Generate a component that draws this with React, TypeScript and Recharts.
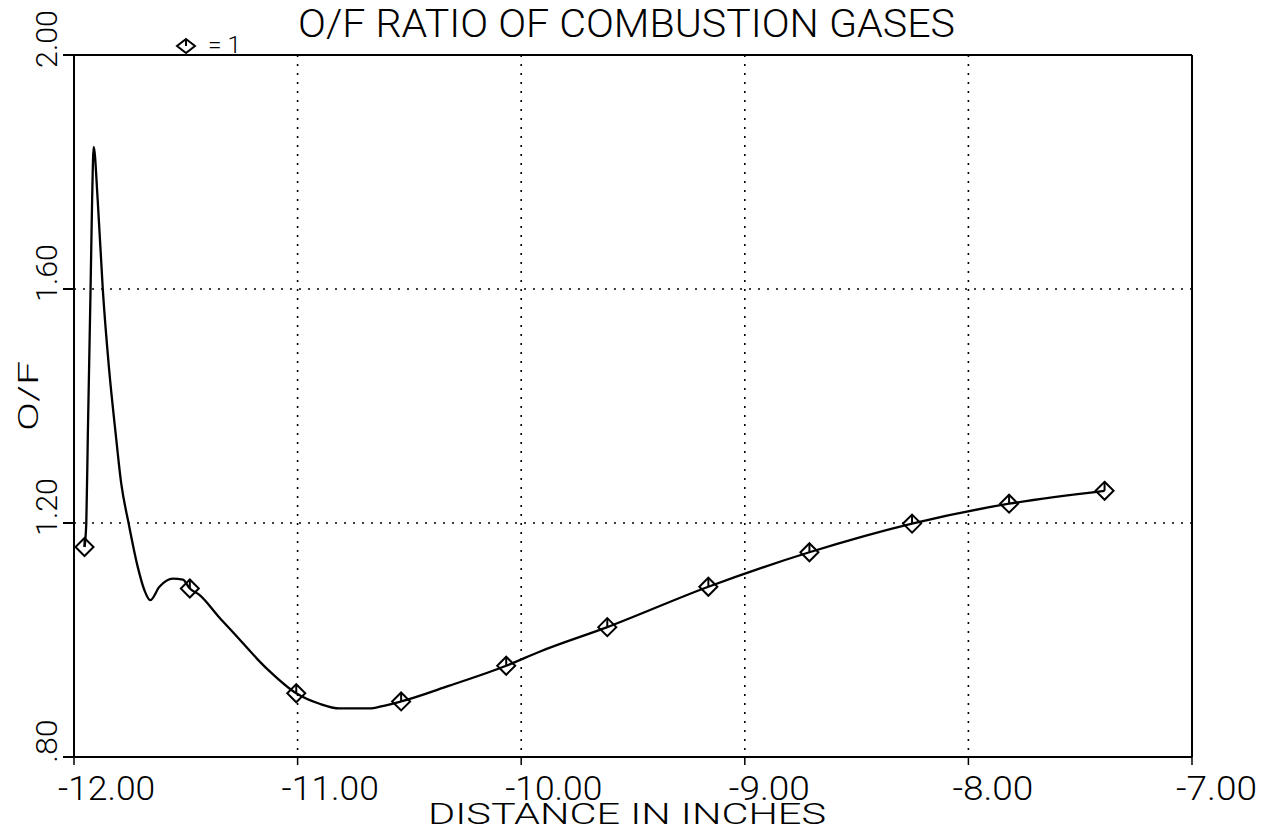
import React from 'react';
import {
  CartesianGrid,
  ComposedChart,
  Legend,
  Line,
  ReferenceLine,
  Scatter,
  XAxis,
  YAxis,
} from 'recharts';

// traced curve (distance in inches, O/F)
const curveX = [
  -11.953, -11.945, -11.938, -11.926, -11.919, -11.912, -11.894, -11.871,
  -11.844, -11.814, -11.789, -11.756, -11.715, -11.685, -11.659, -11.618,
  -11.558, -11.513, -11.482, -11.439, -11.349, -11.291, -11.14, -11.006,
  -10.902, -10.813, -10.679, -10.62, -10.537, -10.321, -10.067, -9.918,
  -9.615, -9.163, -8.711, -8.252, -7.818, -7.391,
];
const curveY = [
  1.159, 1.2, 1.354, 1.598, 1.752, 1.843, 1.752, 1.598, 1.467, 1.354, 1.268,
  1.2, 1.125, 1.085, 1.068, 1.091, 1.105, 1.103, 1.088, 1.077, 1.038, 1.014,
  0.952, 0.909, 0.891, 0.883, 0.883, 0.887, 0.895, 0.922, 0.956, 0.98, 1.022,
  1.091, 1.15, 1.199, 1.233, 1.255,
];

// diamond symbols (curve 1)
const markerX = [
  -11.953, -11.482, -11.006, -10.537, -10.067, -9.615, -9.163, -8.711, -8.252,
  -7.818, -7.391,
];
const markerY = [
  1.159, 1.088, 0.909, 0.895, 0.956, 1.022, 1.091, 1.15, 1.199, 1.233, 1.255,
];

const xTicks = [-12, -11, -10, -9, -8, -7];
const xTickLabels = ['-12.00', '-11.00', '-10.00', '-9.00', '-8.00', '-7.00'];
const yTicks = [0.8, 1.2, 1.6, 2.0];
const yTickLabels = ['.80', '1.20', '1.60', '2.00'];

const FONT = "Roboto, 'DejaVu Sans', sans-serif";
const WEIGHT = 300;

const curveData = curveX.map((x, i) => ({ x, y: curveY[i] }));
const markerData = markerX.map((x, i) => ({ x, y: markerY[i] }));

const Diamond = ({ cx, cy, w = 9, h = 9 }: any) => (
  <g stroke="#000" strokeWidth={2} fill="none">
    <path d={`M${cx},${cy - h}L${cx + w},${cy}L${cx},${cy + h}L${cx - w},${cy}Z`} />
    <line x1={cx} y1={cy - h} x2={cx} y2={cy} />
  </g>
);

const XTick = ({ x, y, payload }: any) => {
  const label = xTickLabels[xTicks.indexOf(payload.value)] ?? '';
  return (
    <text
      x={x - 16}
      y={y + 33}
      fontFamily={FONT}
      fontWeight={WEIGHT}
      fontSize={34}
      fill="#000"
      textLength={label.length * 16.2}
      lengthAdjust="spacingAndGlyphs"
    >
      {label}
    </text>
  );
};

const YTick = ({ x, y, payload }: any) => {
  const idx = yTicks.findIndex((t) => Math.abs(t - payload.value) < 1e-6);
  const label = yTickLabels[idx] ?? '';
  const bx = x - 4;
  const cy = y - 16;
  return (
    <text
      x={bx}
      y={cy}
      transform={`rotate(-90, ${bx}, ${cy})`}
      textAnchor="middle"
      fontFamily={FONT}
      fontWeight={WEIGHT}
      fontSize={30}
      fill="#000"
      textLength={label.length * 14.5}
      lengthAdjust="spacingAndGlyphs"
    >
      {label}
    </text>
  );
};

const renderLegend = () => (
  <svg width={90} height={30} style={{ display: 'block' }}>
    <Diamond cx={16} cy={16} w={9} h={7} />
    <text
      x={38}
      y={23}
      fontFamily={FONT}
      fontWeight={WEIGHT}
      fontSize={24}
      fill="#000"
      textLength={33}
      lengthAdjust="spacingAndGlyphs"
    >
      = 1
    </text>
  </svg>
);

const App = () => {
  return (
    <div
      style={{
        position: 'absolute',
        left: 0,
        top: 0,
        width: 1268,
        height: 831,
        background: '#fff',
      }}
    >
      <ComposedChart
        width={1268}
        height={831}
        margin={{ top: 55, right: 76, bottom: 14, left: 14 }}
      >
        <CartesianGrid stroke="#000" strokeWidth={1.6} strokeDasharray="2 7" />
        <XAxis
          dataKey="x"
          type="number"
          domain={[-12, -7]}
          ticks={xTicks}
          allowDataOverflow
          height={60}
          tickSize={8}
          tick={<XTick />}
          tickLine={{ stroke: '#000', strokeWidth: 1.5 }}
          axisLine={{ stroke: '#000', strokeWidth: 2 }}
          label={{
            content: ({ viewBox }: any) => (
              <text
                x={viewBox.x + viewBox.width / 2 - 6}
                y={viewBox.y + 67}
                textAnchor="middle"
                fontFamily={FONT}
                fontWeight={WEIGHT}
                fontSize={30}
                fill="#000"
                textLength={398}
                lengthAdjust="spacingAndGlyphs"
              >
                DISTANCE IN INCHES
              </text>
            ),
          }}
        />
        <YAxis
          dataKey="y"
          type="number"
          domain={[0.8, 2.0]}
          ticks={yTicks}
          allowDataOverflow
          width={60}
          tickSize={11}
          tick={<YTick />}
          tickLine={{ stroke: '#000', strokeWidth: 2 }}
          axisLine={{ stroke: '#000', strokeWidth: 2 }}
          label={{
            content: ({ viewBox }: any) => {
              const bx = viewBox.x + 24;
              const cy = viewBox.y + viewBox.height / 2 - 10;
              return (
                <text
                  x={bx}
                  y={cy}
                  transform={`rotate(-90, ${bx}, ${cy})`}
                  textAnchor="middle"
                  fontFamily={FONT}
                  fontWeight={WEIGHT}
                  fontSize={28}
                  fill="#000"
                  textLength={70}
                  lengthAdjust="spacingAndGlyphs"
                >
                  O/F
                </text>
              );
            },
          }}
        />
        <ReferenceLine y={2} stroke="#000" strokeWidth={2} />
        <ReferenceLine x={-7} stroke="#000" strokeWidth={2} />
        <Legend
          layout="horizontal"
          verticalAlign="middle"
          align="center"
          content={renderLegend}
          wrapperStyle={{ left: 170, top: 30, width: 90, height: 30 }}
        />
        <Line
          data={curveData}
          dataKey="y"
          type="monotone"
          stroke="#000"
          strokeWidth={2.3}
          dot={false}
          activeDot={false}
          isAnimationActive={false}
        />
        <Scatter
          data={markerData}
          dataKey="y"
          shape={(p: any) => <Diamond cx={p.cx} cy={p.cy} />}
          isAnimationActive={false}
        />
      </ComposedChart>
      <svg
        width={1268}
        height={60}
        style={{ position: 'absolute', left: 0, top: 0, pointerEvents: 'none' }}
      >
        <text
          x={298}
          y={37}
          fontFamily={FONT}
          fontWeight={WEIGHT}
          fontSize={39}
          fill="#000"
          textLength={657}
          lengthAdjust="spacingAndGlyphs"
        >
          O/F RATIO OF COMBUSTION GASES
        </text>
      </svg>
    </div>
  );
};

export default App;
